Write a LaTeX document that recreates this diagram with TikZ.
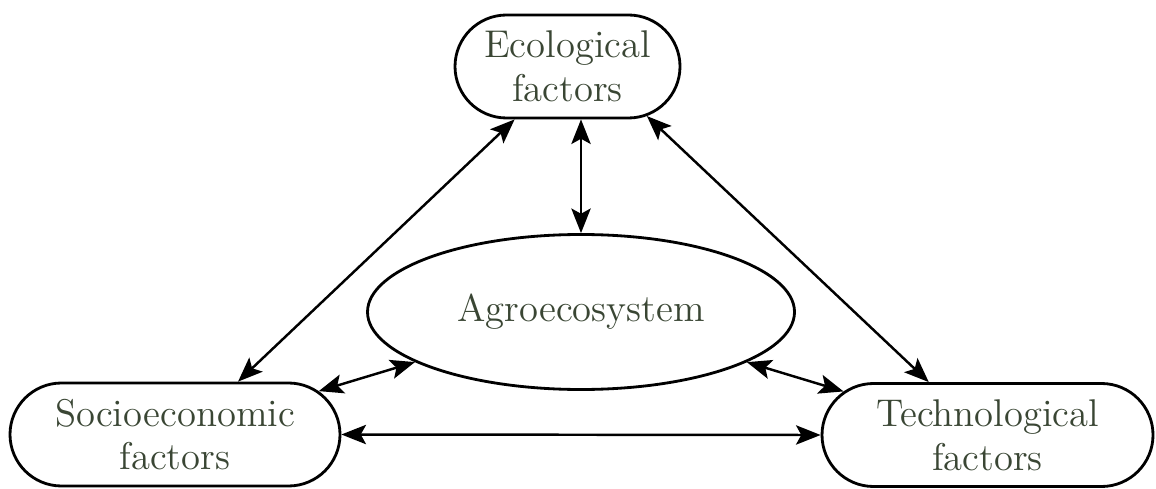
\documentclass[tikz,border=0pt]{standalone}
\usetikzlibrary{arrows.meta,shapes.geometric,shapes.misc}
\definecolor{txtgreen}{RGB}{58,70,52}
\tikzset{factor/.style={draw,rounded rectangle,line width=0.8pt,minimum height=1.03cm,inner sep=0pt,align=center,text=txtgreen,font=\fontsize{11}{12.4}\selectfont}}
\tikzstyle{system}=[draw,ellipse,line width=0.8pt,minimum width=4.27cm,minimum height=1.55cm,inner sep=0pt,text=txtgreen,font=\fontsize{11}{12.4}\selectfont]
\begin{document}
\begin{tikzpicture}
			\useasboundingbox (0,0) rectangle (11.56,4.88);
			\begin{scope}[>={Stealth[length=7pt,width=5.5pt,inset=1.5pt]}]
				\node (eco)[factor,minimum width=2.25cm]  at (5.675,4.215) {Ecological\\factors};
				\node (soc)[factor,minimum width=3.30cm]  at (1.75,0.535)  {Socioeconomic\\factors};
				\node (tech)[factor,minimum width=3.31cm] at (9.875,0.53)  {Technological\\factors};
				\node (agro)[system]                      at (5.81,1.76)   {Agroecosystem};
				
				\draw[<->,line width=0.7pt] (eco.225.6) -- (soc.40.6);
				\draw[<->,line width=0.7pt] (eco.-32) -- (tech.138);
				\draw[<->,line width=0.7pt] (eco.south -| agro.north) -- (agro.north);
				\draw[<->,line width=0.7pt] (agro) -- (soc);
				\draw[<->,line width=0.7pt] (agro) -- (tech);
				\draw[<->,line width=0.7pt] (soc.east) -- (tech.west);
			\end{scope}
		\end{tikzpicture}
\end{document}
